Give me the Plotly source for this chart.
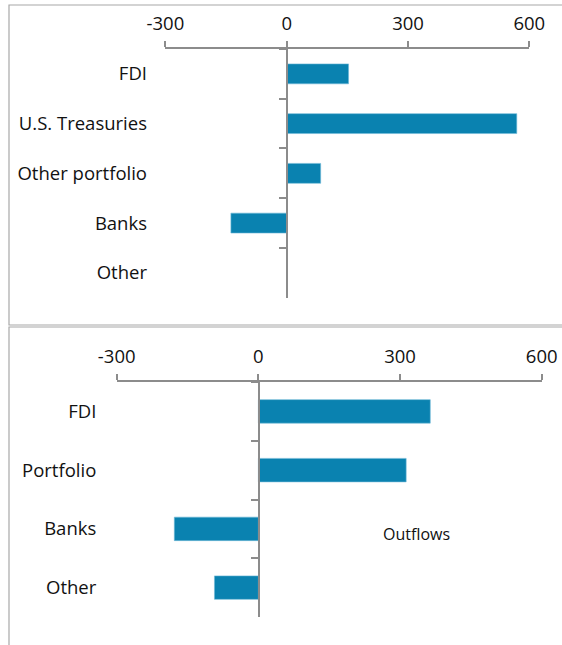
import plotly.graph_objects as go

# ---- data ----
top_categories = ["FDI", "U.S. Treasuries", "Other portfolio", "Banks", "Other"]
top_values = [153, 569, 84, -138, 2]

bottom_categories = ["FDI", "Portfolio", "Banks", "Other"]
bottom_values = [364, 313, -178, -93]

x_ticks = [-300, 0, 300, 600]
x_ticktext = ["-300", "0", "300", "600"]
annotation_text = "Outflows"

# ---- styling ----
W, H = 562, 645
BAR = "#0a82b0"
AXIS = "#8c8c8c"
BORDER = "#a8a8a8"
FONT = "Open Sans, Noto Sans, sans-serif"
TXT = "#111111"
FS = 18.5

fig = go.Figure()
fig.add_trace(go.Bar(
    x=top_values, y=top_categories, orientation="h",
    marker=dict(color=BAR, line=dict(color="#6fb8d6", width=0.6)),
    xaxis="x", yaxis="y", showlegend=False, hoverinfo="x+y"))
fig.add_trace(go.Bar(
    x=bottom_values, y=bottom_categories, orientation="h",
    marker=dict(color=BAR, line=dict(color="#6fb8d6", width=0.6)),
    xaxis="x2", yaxis="y2", showlegend=False, hoverinfo="x+y"))

def px_x(p):
    return p / W

def px_y(p):
    return 1 - p / H

xcommon = dict(range=[-300, 600], tickvals=x_ticks, ticktext=x_ticktext,
               side="top", showline=True, linecolor=AXIS, linewidth=2,
               ticks="outside", ticklen=6, tickwidth=1.5, tickcolor=AXIS,
               showgrid=False, zeroline=False, automargin=False,
               ticklabelstandoff=4,
               tickfont=dict(family=FONT, size=FS, color=TXT), fixedrange=True)
ycommon = dict(type="category", showline=True, linecolor=AXIS, linewidth=2,
               ticks="outside", tickson="boundaries", ticklen=7, tickwidth=1.5,
               tickcolor=AXIS, showgrid=False, zeroline=False, automargin=False,
               tickfont=dict(family=FONT, size=FS, color=TXT), fixedrange=True)

fig.update_layout(
    width=W, height=H,
    margin=dict(l=0, r=0, t=0, b=0, pad=0),
    paper_bgcolor="white", plot_bgcolor="rgba(0,0,0,0)",
    bargap=0.6,
    font=dict(family=FONT, size=FS, color=TXT),
    xaxis=dict(domain=[px_x(165.4), px_x(529.3)], anchor="y", **xcommon),
    yaxis=dict(domain=[px_y(297.7), px_y(49)], anchor="free",
               position=px_x(286.7), range=[4.5, -0.5],
               ticklabelstandoff=135, **ycommon),
    xaxis2=dict(domain=[px_x(116.7), px_x(541.7)], anchor="y2", **xcommon),
    yaxis2=dict(domain=[px_y(617), px_y(382)], anchor="free",
                position=px_x(259), range=[3.5, -0.5],
                ticklabelstandoff=158, **ycommon),
    shapes=[
        dict(type="rect", xref="paper", yref="paper",
             x0=px_x(9), x1=px_x(600), y0=px_y(325), y1=px_y(5),
             line=dict(color=BORDER, width=1.2), layer="below"),
        dict(type="rect", xref="paper", yref="paper",
             x0=px_x(9), x1=px_x(600), y0=px_y(700), y1=px_y(327),
             line=dict(color=BORDER, width=1.2), layer="below"),
    ],
    annotations=[
        dict(text=annotation_text, x=334, y=2.08, xref="x2", yref="y2",
             showarrow=False, font=dict(family=FONT, size=16, color=TXT))
    ],
)

fig.write_html("out.html", config={"displayModeBar": False},
               post_script="document.body.style.margin='0';")
